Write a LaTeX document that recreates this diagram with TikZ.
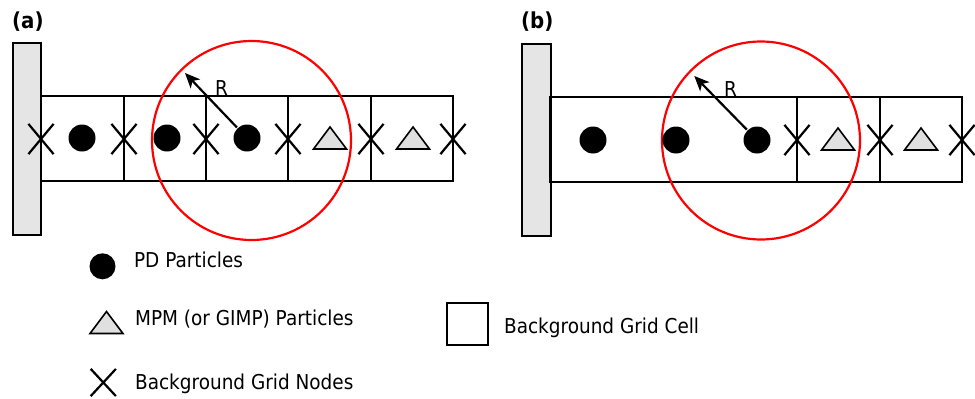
\documentclass[tikz,border=0pt]{standalone}
\usepackage{fontspec}
\setmainfont{DejaVu Sans}[FakeStretch=0.9]
\usetikzlibrary{arrows.meta,shapes.misc}

\begin{document}
\begin{tikzpicture}[line join=miter,line width=2.2pt,>={Stealth[length=15pt,width=13pt,inset=4pt]},x=1pt,y=-1pt,
	pd/.style={circle,fill=black,draw=none,inner sep=0pt,minimum size=27pt},
	gridnode/.style={cross out,draw,inner sep=0pt,minimum width=23pt,minimum height=28pt},
	wall/.style={draw,fill=black!10},
	lbl/.style={inner sep=0pt,anchor=base west,font=\fontsize{20.5}{24}\selectfont},
	panel/.style={inner sep=0pt,anchor=base west,font=\bfseries\fontsize{22}{26}\selectfont},
	mpm/.pic={\draw[fill=black!12,line width=1.6pt] (-16.5,11)--(16.5,11)--(0,-11)--cycle;}]
			\useasboundingbox (0,0) rectangle (975,399);
			% Panneau (a)
			\node[panel] (la) at (11,28) {(a)};
			\draw[wall] (13,43) rectangle (41,235);
			\draw (41,96) rectangle (453,181);
			\foreach \x in {124,206,288,371} \draw (\x,96)--(\x,181);
			\foreach \x [count=\i] in {41,124,206,288,371,453} \node[gridnode] (ga\i) at (\x,139) {};
			\coordinate (ca) at (251.5,140.5);
			\draw[red] (ca) circle[radius=99.5pt];
			\foreach \x [count=\i] in {82,167,247} \node[pd] (pa\i) at (\x,138) {};
			\foreach \x in {330,413} \pic at (\x,138) {mpm};
			\coordinate (ra) at (185,73);
			\draw[->] (pa3)--(ra);
			\node[lbl] (Ra) at (214,95) {R};
			% Panneau (b)
			\node[panel] (lb) at (520,28) {(b)};
			\begin{scope}[shift={(509,1)}]
				\draw[wall] (13,43) rectangle (42,235);
				\draw (41,96) rectangle (453,181);
				\foreach \x in {288,371} \draw (\x,96)--(\x,181);
				\foreach \x [count=\i] in {288,371,453} \node[gridnode] (gb\i) at (\x,139) {};
				\coordinate (cb) at (252,139.5);
				\draw[red] (cb) circle[radius=99pt];
				\foreach \x [count=\i] in {84,167,248} \node[pd] (pb\i) at (\x,139) {};
				\foreach \x in {329,412} \pic at (\x,138) {mpm};
				\coordinate (rb) at (185.3,75);
				\draw[->] (pb3)--(rb);
				\node[lbl] (Rb) at (214,95) {R};
			\end{scope}
			% Legende
			\node[pd,minimum size=26pt] (lpd) at (102.5,266.3) {};
			\node[lbl] (tpd) at (133,267.3) {PD Particles};
			\pic at (106.5,322.5) {mpm};
			\node[lbl] (tmpm) at (134,325.7) {MPM (or GIMP) Particles};
			\node[gridnode,minimum height=25pt] (lgn) at (103.3,382.5) {};
			\node[lbl] (tgn) at (134,389.3) {Background Grid Nodes};
			\node[draw,inner sep=0pt,minimum width=41pt,minimum height=42pt] (lcell) at (467.5,324) {};
			\node[lbl] (tcell) at (503,333) {Background Grid Cell};
	\end{tikzpicture}
\end{document}
